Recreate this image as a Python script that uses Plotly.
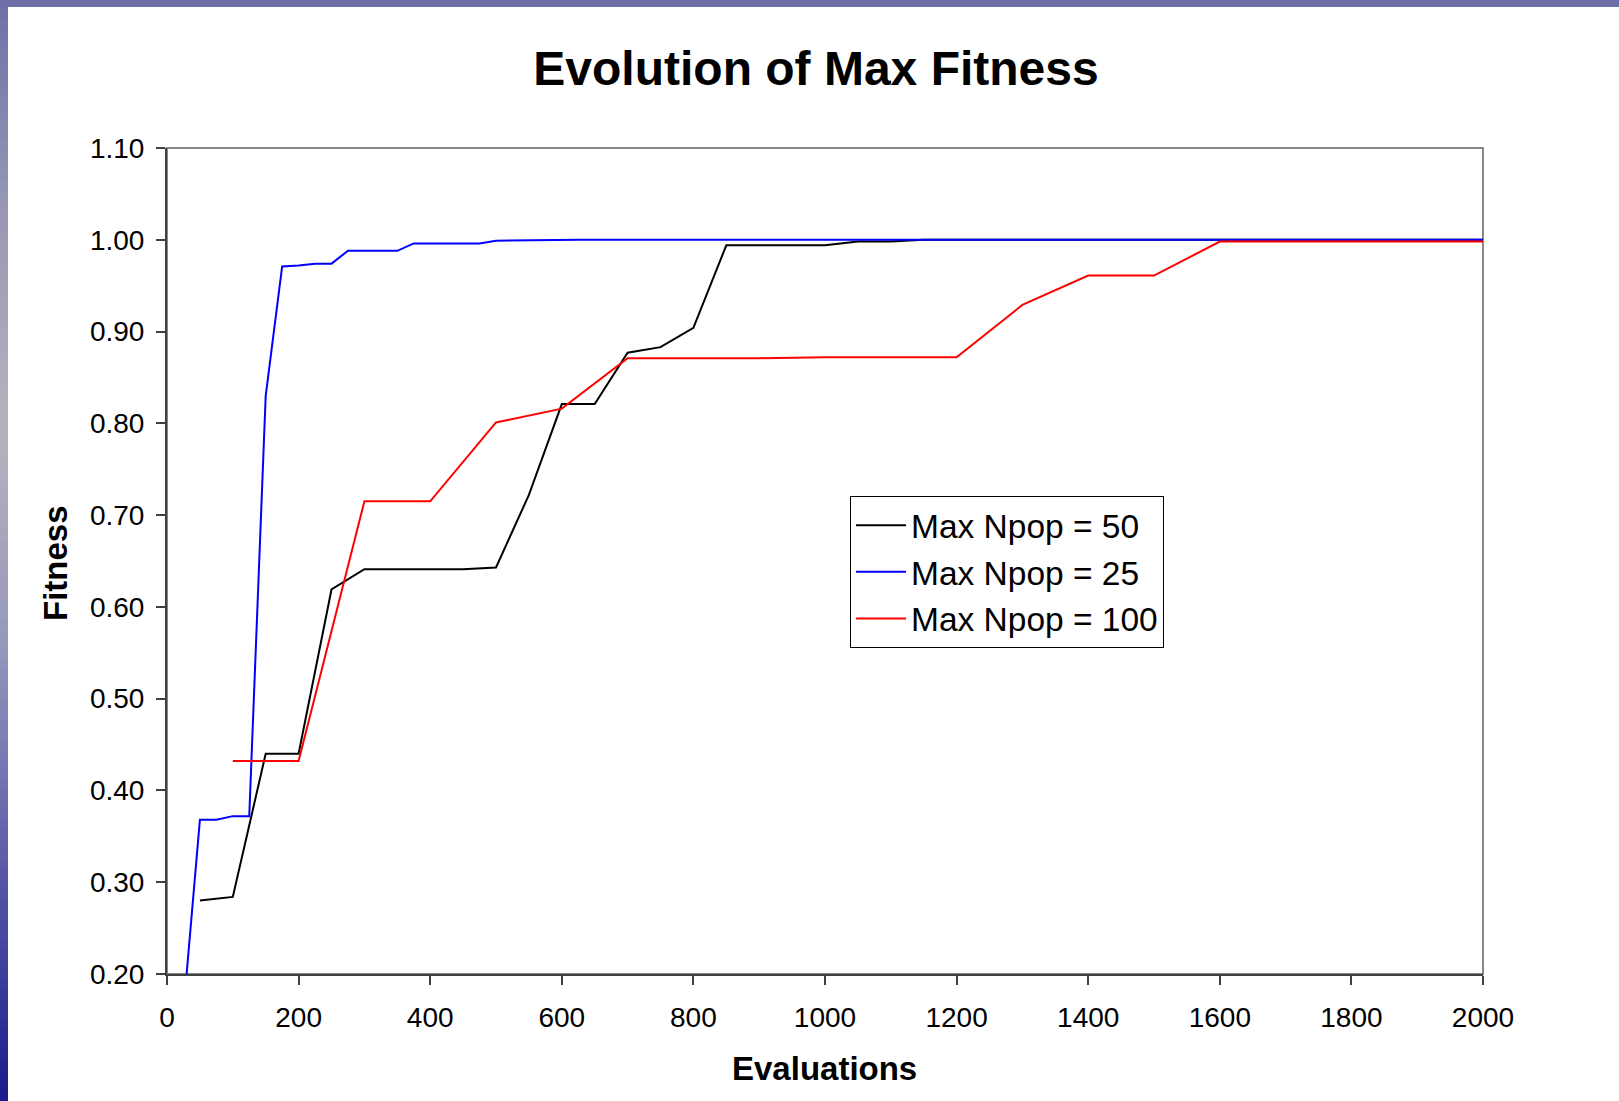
import plotly.graph_objects as go

# ---- data ----
x_npop25 = [25, 50, 75, 100, 125, 150, 175, 200, 225, 250, 275, 300, 325, 350, 375, 400,
            425, 450, 475, 500, 625, 750, 875, 1000, 1125, 1250, 1375, 1500, 1625, 1750, 1875, 2000]
y_npop25 = [0.160, 0.368, 0.368, 0.372, 0.372, 0.830, 0.971, 0.972, 0.974, 0.974, 0.988, 0.988, 0.988, 0.988, 0.996, 0.996,
            0.996, 0.996, 0.996, 0.999, 1.000, 1.000, 1.000, 1.000, 1.000, 1.000, 1.000, 1.000, 1.000, 1.000, 1.000, 1.000]

x_npop50 = [50, 100, 150, 200, 250, 300, 350, 400, 450, 500, 550, 600, 650, 700, 750, 800,
            850, 900, 950, 1000, 1050, 1100, 1150, 1200, 1300, 1400, 1500, 1600, 1700, 1800, 1900, 2000]
y_npop50 = [0.280, 0.284, 0.440, 0.440, 0.619, 0.641, 0.641, 0.641, 0.641, 0.643, 0.722, 0.821, 0.821, 0.877, 0.883, 0.904,
            0.994, 0.994, 0.994, 0.994, 0.998, 0.998, 1.000, 1.000, 1.000, 1.000, 1.000, 1.000, 1.000, 1.000, 1.000, 1.000]

x_npop100 = [100, 200, 300, 400, 500, 600, 700, 800, 900, 1000, 1100, 1200, 1300, 1400, 1500, 1600,
             1700, 1800, 1900, 2000]
y_npop100 = [0.432, 0.432, 0.715, 0.715, 0.801, 0.816, 0.871, 0.871, 0.871, 0.872, 0.872, 0.872, 0.929, 0.961, 0.961, 0.998,
             0.998, 0.998, 0.998, 0.998]

series_names = ["Max Npop = 50", "Max Npop = 25", "Max Npop = 100"]
x_ticks = [0, 200, 400, 600, 800, 1000, 1200, 1400, 1600, 1800, 2000]
y_ticks = [0.2, 0.3, 0.4, 0.5, 0.6, 0.7, 0.8, 0.9, 1.0, 1.1]

# ---- layout geometry (pixels) ----
W, H = 1619, 1101
L, R, T, B = 167, 1483, 148, 974
PW, PH = R - L, B - T
FONT = "Liberation Sans, Arial, sans-serif"


def px_x(px):
    return (px - L) / PW


def px_y(py):
    return (B - py) / PH


fig = go.Figure()
fig.add_trace(go.Scatter(x=x_npop50, y=y_npop50, mode="lines", name=series_names[0],
                         line=dict(color="#000000", width=2)))
fig.add_trace(go.Scatter(x=x_npop25, y=y_npop25, mode="lines", name=series_names[1],
                         line=dict(color="#0000ff", width=2)))
fig.add_trace(go.Scatter(x=x_npop100, y=y_npop100, mode="lines", name=series_names[2],
                         line=dict(color="#ff0000", width=2)))

shapes = []
# plot area border (grey, top/right visible)
shapes.append(dict(type="rect", xref="paper", yref="paper", x0=0, x1=1, y0=0, y1=1,
                   line=dict(color="#888888", width=2), layer="below"))
# top decorative band
shapes.append(dict(type="rect", xref="paper", yref="paper", x0=px_x(0), x1=px_x(W),
                   y0=px_y(7), y1=px_y(0), line=dict(width=0), fillcolor="#6f6fa8", layer="below"))
# left decorative band with gradient (stacked strips)
stops = [(0, (111, 111, 168)), (200, (150, 150, 180)), (430, (180, 180, 190)),
         (650, (150, 150, 188)), (850, (95, 95, 170)), (1101, (26, 26, 140))]


def col_at(y):
    for (y0, c0), (y1, c1) in zip(stops[:-1], stops[1:]):
        if y0 <= y <= y1:
            t = (y - y0) / (y1 - y0)
            return "rgb(%d,%d,%d)" % tuple(round(a + (b - a) * t) for a, b in zip(c0, c1))
    return "rgb(%d,%d,%d)" % stops[-1][1]


step = 10
for yy in range(0, H, step):
    shapes.append(dict(type="rect", xref="paper", yref="paper", x0=px_x(0), x1=px_x(8),
                       y0=px_y(min(yy + step + 1, H)), y1=px_y(yy), line=dict(width=0),
                       fillcolor=col_at(yy + step / 2), layer="below"))

fig.update_layout(
    width=W, height=H,
    margin=dict(l=L, r=W - R, t=T, b=H - B, pad=0),
    paper_bgcolor="white", plot_bgcolor="white",
    font=dict(family=FONT, color="black"),
    title=dict(text="<b>Evolution of Max Fitness</b>", font=dict(size=48, family=FONT, color="black"),
               xref="paper", x=px_x(816), xanchor="center",
               yref="container", y=1 - 68 / H, yanchor="middle"),
    showlegend=True,
    legend=dict(x=px_x(850), y=px_y(496), xanchor="left", yanchor="top",
                bgcolor="white", bordercolor="#000000", borderwidth=1,
                font=dict(size=33.5, family=FONT, color="black"),
                tracegroupgap=0, itemwidth=50),
    shapes=shapes,
    annotations=[
        dict(text="<b>Evaluations</b>", xref="paper", yref="paper", x=px_x(824), y=px_y(1068),
             xanchor="center", yanchor="middle", showarrow=False,
             font=dict(size=33, family=FONT, color="black")),
        dict(text="<b>Fitness</b>", xref="paper", yref="paper", x=px_x(55), y=px_y(563),
             xanchor="center", yanchor="middle", showarrow=False, textangle=-90,
             font=dict(size=33, family=FONT, color="black")),
    ],
)

fig.update_xaxes(range=[0, 2000], tickmode="array", tickvals=x_ticks,
                 ticktext=[str(v) for v in x_ticks],
                 showgrid=False, zeroline=False, showline=True, linecolor="#404040", linewidth=2,
                 ticks="outside", ticklen=9, tickwidth=2, tickcolor="#404040",
                 tickfont=dict(size=28, family=FONT, color="black"), ticklabelstandoff=8)
fig.update_yaxes(range=[0.2, 1.1], tickmode="array", tickvals=y_ticks,
                 ticktext=["%.2f" % v for v in y_ticks],
                 showgrid=False, zeroline=False, showline=True, linecolor="#404040", linewidth=2,
                 ticks="outside", ticklen=9, tickwidth=2, tickcolor="#404040",
                 tickfont=dict(size=28, family=FONT, color="black"), ticklabelstandoff=6)

fig.write_html("out.html")
